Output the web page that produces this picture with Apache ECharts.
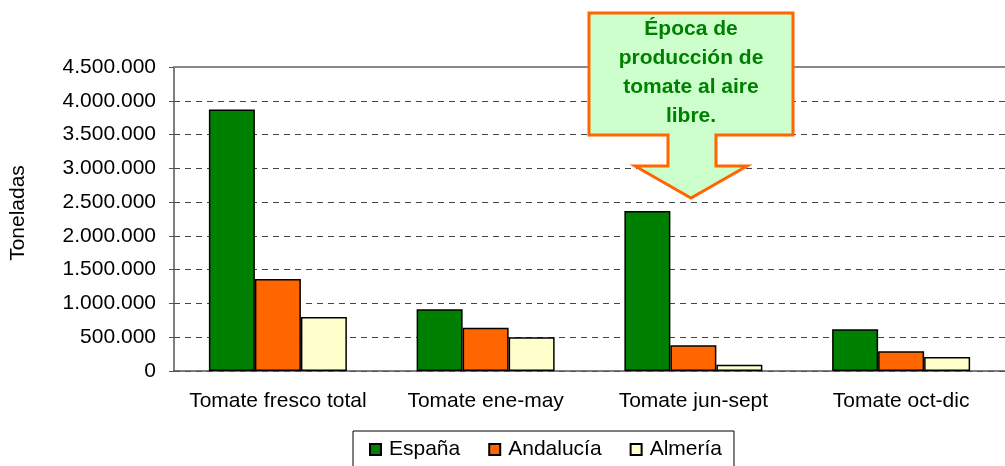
<!DOCTYPE html>
<html lang="es">
<head>
  <meta charset="UTF-8">
  <script src="https://cdn.jsdelivr.net/npm/echarts@6/dist/echarts.min.js"></script>
  <title>Producción de tomate</title>
</head>
<body>
  <div id="chart"></div>
</body>
<style>
  html,body{
    padding: 0;
    margin: 0;
    background: #fff;
  }
  #chart {
    width: 1005px;
    height: 466px;
  }
</style>
</html>
<script>
const categories = ['Tomate fresco total', 'Tomate ene-may', 'Tomate jun-sept', 'Tomate oct-dic']
const espana = [3870000, 913000, 2367000, 617000]
const andalucia = [1361000, 642000, 380000, 291000]
const almeria = [799000, 498000, 93000, 207000]
const yTicks = { min: 0, max: 4500000, interval: 500000 }

const fmt = v => String(v).replace(/\B(?=(\d{3})+(?!\d))/g, '.')
const font = 'Liberation Sans, Arial, sans-serif'

const bar = (name, data, color) => ({
  name: name,
  type: 'bar',
  data: data,
  barWidth: 46,
  barGap: '0%',
  itemStyle: { color: color, borderColor: '#000', borderWidth: 1.5 }
})

const option = {
  animation: false,
  textStyle: { fontFamily: font },
  grid: { left: 174, top: 67, width: 840, height: 304 },
  legend: {
    left: 353,
    top: 431,
    padding: [8, 12, 20, 16],
    borderColor: '#000',
    borderWidth: 1,
    itemWidth: 11,
    itemHeight: 11,
    itemGap: 28,
    icon: 'rect',
    textStyle: { fontSize: 21, color: '#000', fontFamily: font, padding: [0, 0, 0, 3] },
    data: ['España', 'Andalucía', 'Almería']
  },
  xAxis: [{
    type: 'category',
    data: categories,
    axisLine: { lineStyle: { color: '#555', width: 1.5 } },
    axisTick: { length: 5, interval: 0, lineStyle: { color: '#555' } },
    axisLabel: { interval: 0, fontSize: 21, color: '#000', margin: 20, fontFamily: font }
  }, {
    type: 'category',
    position: 'top',
    data: categories,
    axisLine: { show: true, lineStyle: { color: '#888', width: 2 } },
    axisTick: { show: false },
    axisLabel: { show: false }
  }],
  yAxis: {
    type: 'value',
    min: yTicks.min,
    max: yTicks.max,
    interval: yTicks.interval,
    name: 'Toneladas',
    nameLocation: 'middle',
    nameGap: 145,
    nameRotate: 90,
    nameTextStyle: { fontSize: 21, color: '#000', fontFamily: font, padding: [0, 0, 0, 12] },
    axisLine: { show: true, lineStyle: { color: '#555', width: 1.5 } },
    axisTick: { show: true, length: 5, lineStyle: { color: '#555' } },
    axisLabel: { fontSize: 21, color: '#000', margin: 18, formatter: fmt, fontFamily: font },
    splitLine: { lineStyle: { color: '#444', type: [6, 5], width: 1 } }
  },
  series: [
    bar('España', espana, '#008000'),
    bar('Andalucía', andalucia, '#ff6600'),
    bar('Almería', almeria, '#ffffcc')
  ],
  graphic: [{
    type: 'polygon',
    z: 100,
    shape: {
      points: [[589, 13], [793, 13], [793, 135], [716, 135], [716, 166], [747, 166],
               [691, 198], [635, 166], [668, 166], [668, 135], [589, 135]]
    },
    style: { fill: '#ccffcc', stroke: '#ff6600', lineWidth: 3 }
  }, {
    type: 'text',
    z: 101,
    x: 691,
    y: 15,
    style: {
      text: 'Época de\nproducción de\ntomate al aire\nlibre.',
      align: 'center',
      fontSize: 21,
      lineHeight: 29,
      fontWeight: 'bold',
      fill: '#008000',
      fontFamily: font
    }
  }]
}

const myChart = echarts.init(document.getElementById('chart'))
myChart.setOption(option)
</script>
